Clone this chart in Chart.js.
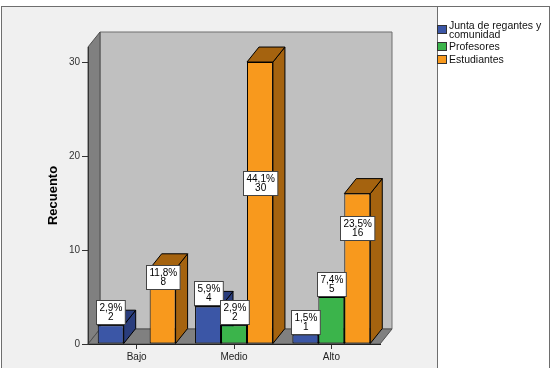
<!DOCTYPE html>
<html lang="es">
<head>
<meta charset="UTF-8">
<title>Recuento por nivel</title>
<script src="https://cdn.jsdelivr.net/npm/chart.js"></script>
<style>
  html, body { margin: 0; padding: 0; background: #fff; }
  canvas { display: block; }
</style>
</head>
<body>
<canvas id="recuentoChart" width="552" height="368"></canvas>
<script>
// data
const niveles = ['Bajo', 'Medio', 'Alto'];
const serieNombres = ['Junta de regantes y comunidad', 'Profesores', 'Estudiantes'];
const juntaRegantes = [2, 4, 1];
const profesores = [null, 2, 5];
const estudiantes = [8, 30, 16];
const yTicks = [0, 10, 20, 30];
const yMax = 31.6;

// styles
const frontColors = ['#3b56a6', '#3bb44b', '#f8991d'];
const sideColors = ['#2a3d7c', '#1f7c34', '#a5630f'];
const DX = 12, DY = 15;
const FONT = '"Liberation Sans", Arial, sans-serif';

const total = [...juntaRegantes, ...profesores, ...estudiantes].reduce((a, b) => a + (b || 0), 0);

function poly(ctx, pts, fill, stroke) {
    ctx.beginPath();
    ctx.moveTo(pts[0][0], pts[0][1]);
    for (let i = 1; i < pts.length; i++) ctx.lineTo(pts[i][0], pts[i][1]);
    ctx.closePath();
    if (fill) { ctx.fillStyle = fill; ctx.fill(); }
    if (stroke) { ctx.strokeStyle = stroke; ctx.lineWidth = 1; ctx.stroke(); }
}

function wrapText(ctx, text, maxWidth) {
    const words = text.split(' ');
    const lines = [];
    let line = '';
    words.forEach(w => {
        const test = line ? line + ' ' + w : w;
        if (ctx.measureText(test).width > maxWidth && line) {
            lines.push(line);
            line = w;
        } else {
            line = test;
        }
    });
    if (line) lines.push(line);
    return lines;
}

const frame3d = {
    id: 'frame3d',
    beforeDraw(chart) {
        const ctx = chart.ctx;
        const {left, right, top, bottom} = chart.chartArea;
        ctx.save();
        ctx.fillStyle = '#fff';
        ctx.fillRect(0, 0, chart.width, chart.height);
        // outer panel + legend box
        ctx.fillStyle = '#f0f0f0';
        ctx.fillRect(1, 6, 437, chart.height);
        ctx.strokeStyle = '#6e6e6e';
        ctx.lineWidth = 1;
        ctx.strokeRect(1.5, 6.5, 436, chart.height);
        ctx.fillStyle = '#fff';
        ctx.fillRect(438, 6, 112, chart.height);
        ctx.strokeRect(437.5, 6.5, 112, chart.height);
        // back wall, left wall, floor
        poly(ctx, [[left + DX, top - DY], [right + DX, top - DY], [right + DX, bottom - DY], [left + DX, bottom - DY]], '#c0c0c0', '#6e6e6e');
        poly(ctx, [[left, top], [left + DX, top - DY], [left + DX, bottom - DY], [left, bottom]], '#808080', '#505050');
        poly(ctx, [[left, bottom], [left + DX, bottom - DY], [right + DX, bottom - DY], [right, bottom]], '#808080', '#505050');
        ctx.restore();
    },
    beforeDatasetsDraw(chart) {
        // depth faces, drawn left to right so neighbours overlap correctly
        const faces = [];
        chart.data.datasets.forEach((ds, i) => {
            chart.getDatasetMeta(i).data.forEach((bar, j) => {
                if (ds.data[j] == null) return;
                faces.push({bar, color: sideColors[i]});
            });
        });
        faces.sort((a, b) => a.bar.x - b.bar.x);
        const ctx = chart.ctx;
        ctx.save();
        faces.forEach(({bar, color}) => {
            const l = bar.x - bar.width / 2, r = bar.x + bar.width / 2;
            poly(ctx, [[r, bar.base], [r, bar.y], [r + DX, bar.y - DY], [r + DX, bar.base - DY]], color, '#000');
            poly(ctx, [[l, bar.y], [l + DX, bar.y - DY], [r + DX, bar.y - DY], [r, bar.y]], color, '#000');
        });
        ctx.restore();
    },
    afterDatasetsDraw(chart) {
        // value boxes: percent + count
        const ctx = chart.ctx;
        const yScale = chart.scales.y;
        ctx.save();
        ctx.font = '10px ' + FONT;
        ctx.textAlign = 'center';
        ctx.textBaseline = 'middle';
        chart.data.datasets.forEach((ds, i) => {
            chart.getDatasetMeta(i).data.forEach((bar, j) => {
                const v = ds.data[j];
                if (v == null) return;
                const pct = (v / total * 100).toFixed(1).replace('.', ',') + '%';
                const cnt = String(v);
                const w = Math.max(ctx.measureText(pct).width, ctx.measureText(cnt).width) + 6;
                const h = 24;
                const cy = v >= 6 ? yScale.getPixelForValue(v - v * v / 70) : bar.y - 13;
                const bx = Math.round(bar.x - w / 2) + 0.5;
                const by = Math.round(cy - h / 2) + 0.5;
                ctx.fillStyle = '#fff';
                ctx.fillRect(bx, by, w, h);
                ctx.strokeStyle = '#444';
                ctx.lineWidth = 1;
                ctx.strokeRect(bx, by, w, h);
                ctx.fillStyle = '#000';
                ctx.fillText(pct, bx + w / 2, by + 7.5);
                ctx.fillText(cnt, bx + w / 2, by + 17);
            });
        });
        ctx.restore();
    },
    afterDraw(chart) {
        // legend in the white box on the right
        const ctx = chart.ctx;
        ctx.save();
        ctx.font = '10.5px ' + FONT;
        ctx.textBaseline = 'alphabetic';
        ctx.textAlign = 'left';
        let baseline = 28.5;
        chart.data.datasets.forEach((ds, i) => {
            const lines = wrapText(ctx, ds.label, 98);
            const first = baseline;
            lines.forEach(line => {
                ctx.fillStyle = '#111';
                ctx.fillText(line, 449, baseline);
                baseline += 9;
            });
            const last = baseline - 9;
            const mid = (first - 7 + last) / 2;
            ctx.fillStyle = frontColors[i];
            ctx.fillRect(437, Math.round(mid - 4.5), 10, 9);
            ctx.strokeStyle = '#333';
            ctx.strokeRect(437.5, Math.round(mid - 4.5) + 0.5, 9, 8);
            baseline += 3.75;
        });
        ctx.restore();
    }
};

const seriesData = [juntaRegantes, profesores, estudiantes];

new Chart(document.getElementById('recuentoChart'), {
    type: 'bar',
    data: {
        labels: niveles,
        datasets: seriesData.map((d, i) => ({
            label: serieNombres[i],
            data: d,
            backgroundColor: frontColors[i],
            borderColor: '#000',
            borderWidth: 1,
            borderSkipped: false,
            categoryPercentage: 0.8,
            barPercentage: 1.0
        }))
    },
    options: {
        responsive: false,
        animation: false,
        devicePixelRatio: 1,
        layout: { padding: { left: 0, top: 47, right: 172, bottom: 0 } },
        plugins: {
            legend: { display: false },
            tooltip: { enabled: false }
        },
        scales: {
            x: {
                grid: { offset: false, drawOnChartArea: false, tickLength: 5, color: '#333' },
                border: { display: true, color: '#222' },
                ticks: { font: { family: FONT, size: 10 }, color: '#222', padding: 2 },
                afterFit(scale) { scale.height = 24; }
            },
            y: {
                min: 0,
                max: yMax,
                afterBuildTicks(scale) { scale.ticks = yTicks.map(v => ({value: v})); },
                grid: { drawOnChartArea: false, tickLength: 6, color: '#333' },
                border: { display: true, color: '#333' },
                ticks: { font: { family: FONT, size: 10 }, color: '#333', padding: 2 },
                title: {
                    display: true,
                    text: 'Recuento',
                    font: { family: FONT, size: 13, weight: 'bold' },
                    color: '#000',
                    padding: { top: 46, bottom: 0 }
                },
                afterFit(scale) { scale.width = 88; }
            }
        }
    },
    plugins: [frame3d]
});
</script>
</body>
</html>
